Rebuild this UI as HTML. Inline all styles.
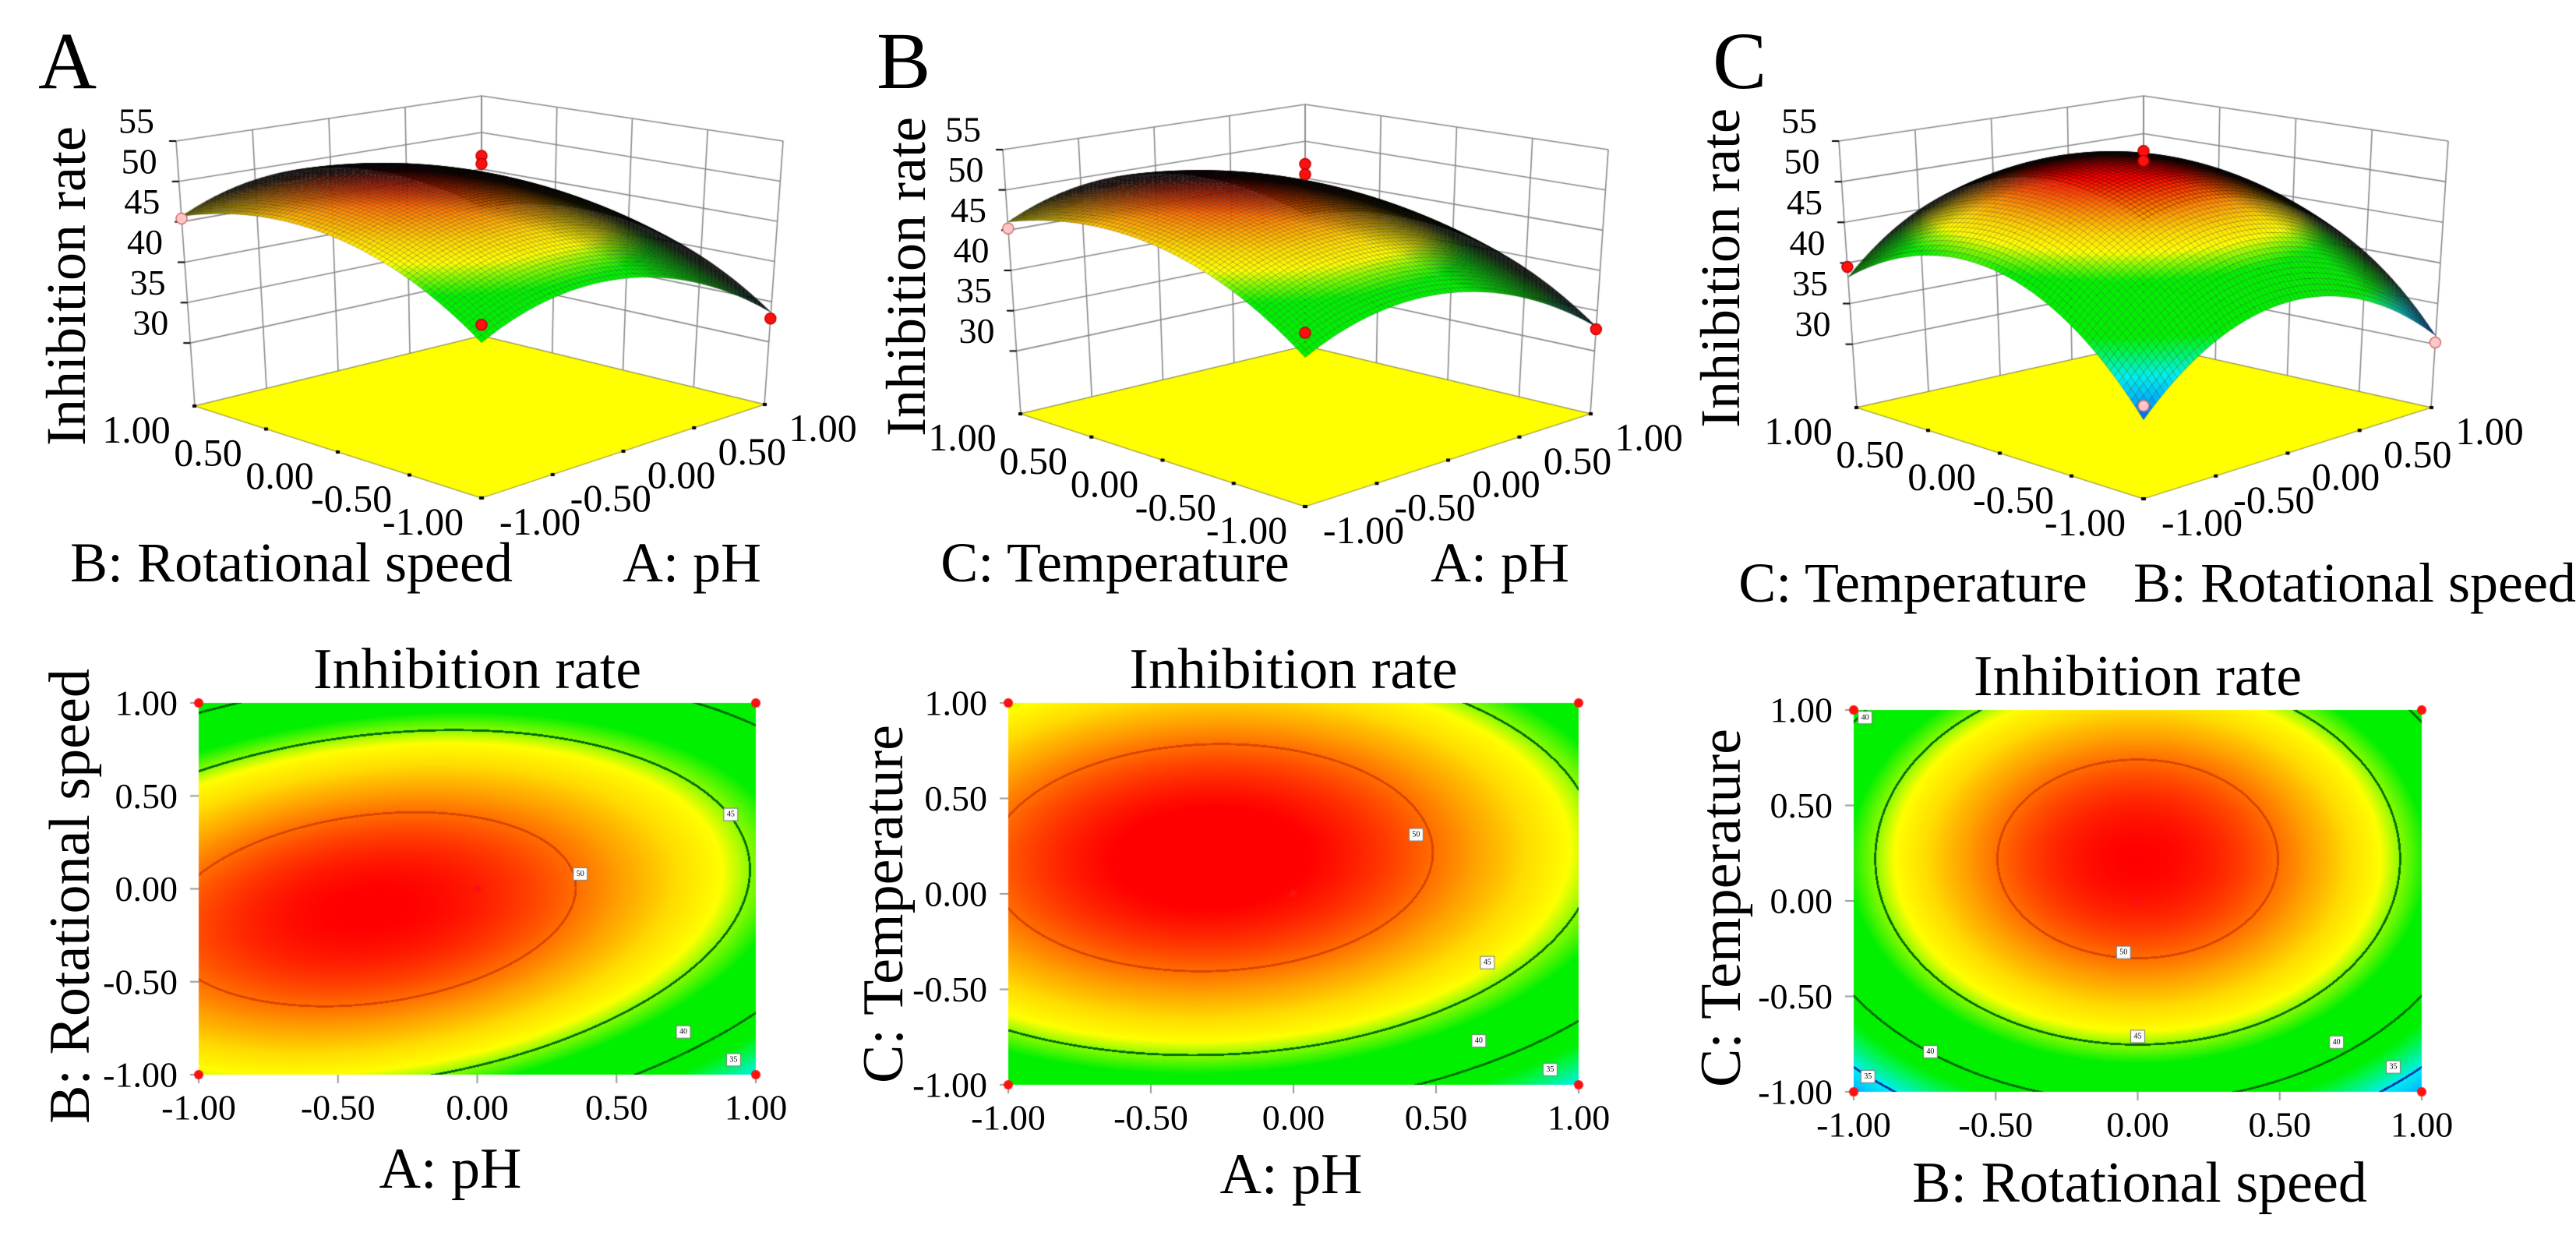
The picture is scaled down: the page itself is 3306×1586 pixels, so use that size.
<!DOCTYPE html>
<html><head><meta charset="utf-8">
<style>
html,body{margin:0;padding:0;background:#fff;}
#wrap{position:relative;width:3306px;height:1586px;overflow:hidden;}
canvas,svg{position:absolute;left:0;top:0;}
svg text{font-family:"Liberation Serif","DejaVu Serif",serif;fill:#000;}
</style></head>
<body>
<div id="wrap">
<canvas id="cv" width="3306" height="1586"></canvas>
<svg id="sv" width="3306" height="1586">
<text x="49" y="113" font-size="104">A</text>
<text x="1125" y="113" font-size="104">B</text>
<text x="2198" y="113" font-size="104">C</text>
</svg>
</div>
<script>
// ---------- data ----------
const zTicks=[55,50,45,40,35,30];
const axisTicks=[-1,-0.5,0,0.5,1];
const tickLabels=['-1.00','-0.50','0.00','0.50','1.00'];
const contourLevels=[50,45,40,35];
// surface model coefficients [peak, x0, y0, kx, ky, kxy]
const surf3dA=[51.5,-0.25,0.3,6,5,0];
const surf3dB=[51.5,-0.25,0.35,6,5,0];
const surf3dC=[53,0,0.2,9,9,0];
const contourA=[52,-0.35,-0.05,4,8,2.5];
const contourB=[52.5,-0.3,0.2,4.1,7,0.5];
const contourC=[52,0,0.22,8.2,7.4,0];
// design points [s,t,z,pink]
const pts3dA=[[1,1,46.8,0],[1,1,45.7,0],[-1,-1,41.7,0],[1,-1,32.9,0],[-1,1,45.4,1]];
const pts3dB=[[1,1,46.9,0],[1,1,45.5,0],[-1,-1,41.8,0],[1,-1,32.7,0],[-1,1,45.2,1]];
const pts3dC=[[1,1,47.7,0],[1,1,46.4,0],[-1,-1,32.6,1],[1,-1,30.2,1],[-1,1,39.5,0]];
// contour label boxes [x,y,text]
const labelsA=[[0.37,0.08,'50'],[0.91,0.40,'45'],[0.74,-0.77,'40'],[0.92,-0.92,'35']];
const labelsB=[[0.43,0.31,'50'],[0.68,-0.36,'45'],[0.65,-0.77,'40'],[0.90,-0.92,'35']];
const labelsC=[[-0.96,0.96,'40'],[-0.05,-0.27,'50'],[0.0,-0.71,'45'],[-0.73,-0.79,'40'],[0.70,-0.74,'40'],[-0.95,-0.92,'35'],[0.90,-0.87,'35']];

const ZF=22.2, ZT=55;
const cv=document.getElementById('cv');const ctx=cv.getContext('2d');
const sv=document.getElementById('sv');const NS='http://www.w3.org/2000/svg';

function txt(x,y,s,size,anchor,name,rot,baseline){
  const t=document.createElementNS(NS,'text');
  t.setAttribute('x',x);t.setAttribute('y',y);t.setAttribute('font-size',size);
  t.setAttribute('text-anchor',anchor||'middle');
  if(baseline)t.setAttribute('dominant-baseline',baseline);
  if(rot)t.setAttribute('transform','rotate(-90 '+x+' '+y+')');
  t.textContent=s;
  
  
  sv.appendChild(t);return t;
}
function model(c,x,y){return c[0]-c[3]*(x-c[1])*(x-c[1])-c[4]*(y-c[2])*(y-c[2])+c[5]*x*y;}
function grad(c,x,y){return [-2*c[3]*(x-c[1])+c[5]*y,-2*c[4]*(y-c[2])+c[5]*x];}
const stops=[[30,0,40,255],[33,0,180,255],[35,0,240,240],[37.5,0,245,60],[38.5,0,240,0],[43.5,0,240,0],[45,140,250,0],[46,255,255,0],[47.5,255,220,0],[49,255,160,0],[50,255,110,0],[52,255,0,0]];
function cmap(v){
  if(v<=stops[0][0])return stops[0].slice(1);
  for(let i=1;i<stops.length;i++){if(v<=stops[i][0]){const a=stops[i-1],b=stops[i],f=(v-a[0])/(b[0]-a[0]);return [a[1]+f*(b[1]-a[1]),a[2]+f*(b[2]-a[2]),a[3]+f*(b[3]-a[3])];}}
  return stops[stops.length-1].slice(1);
}

// ---------- 3D panels ----------
function bil(C,s,t){const u=(s+1)/2,w=(t+1)/2;
  const a=(1-u)*(1-w),b=u*(1-w),c=u*w,d=(1-u)*w;
  return [C.F[0]*a+C.R[0]*b+C.B[0]*c+C.L[0]*d, C.F[1]*a+C.R[1]*b+C.B[1]*c+C.L[1]*d];}
function proj(P,s,t,z){const f=bil(P.floor,s,t),tp=bil(P.top,s,t),k=(z-ZF)/(ZT-ZF);return [f[0]+k*(tp[0]-f[0]),f[1]+k*(tp[1]-f[1])];}
function line(a,b,col,w){ctx.strokeStyle=col;ctx.lineWidth=w;ctx.beginPath();ctx.moveTo(a[0],a[1]);ctx.lineTo(b[0],b[1]);ctx.stroke();}

function draw3d(P,coef,pts,id){
  const gc='#8a8a8a';
  axisTicks.forEach(s=>{line(proj(P,s,1,ZF),proj(P,s,1,ZT),gc,1.6);line(proj(P,1,s,ZF),proj(P,1,s,ZT),gc,1.6);});
  zTicks.concat([ZF]).forEach(z=>{line(proj(P,-1,1,z),proj(P,1,1,z),gc,1.6);line(proj(P,1,-1,z),proj(P,1,1,z),gc,1.6);});
  ctx.fillStyle='#ffff00';ctx.beginPath();
  [[-1,-1],[1,-1],[1,1],[-1,1]].forEach((c,i)=>{const p=proj(P,c[0],c[1],ZF);i?ctx.lineTo(p[0],p[1]):ctx.moveTo(p[0],p[1]);});
  ctx.closePath();ctx.fill();ctx.strokeStyle='#9a9a40';ctx.lineWidth=1.2;ctx.stroke();
  axisTicks.forEach((v,i)=>{
    const pl=proj(P,-1,v,ZF);ctx.fillStyle='#000';ctx.fillRect(pl[0]-3,pl[1]-2,5,4);
    const pr=proj(P,v,-1,ZF);ctx.fillRect(pr[0]-2,pr[1]-2,5,4);
    txt(pl[0]-75,pl[1]+30,tickLabels[i],50,'middle','floor-tick-'+id+'-left-'+i,false,'central');
    txt(pr[0]+75,pr[1]+30,tickLabels[i],50,'middle','floor-tick-'+id+'-right-'+i,false,'central');
  });
  zTicks.forEach(z=>{const p=proj(P,-1,1,z);line([p[0]-9,p[1]],p,'#000',2);
    txt(p[0]-28,p[1]-26,String(z),46,'end','z-tick-'+id+'-'+z,false,'central');});
  const N=70,q=[];
  for(let i=0;i<N;i++)for(let j=0;j<N;j++){const s0=-1+2*i/N,s1=-1+2*(i+1)/N,t0=-1+2*j/N,t1=-1+2*(j+1)/N;q.push([s0,s1,t0,t1]);}
  q.sort((a,b)=>(b[0]+b[2])-(a[0]+a[2]));
  const Hs=1.6/(ZT-ZF);
  q.forEach(r=>{
    const sc=(r[0]+r[1])/2,tc=(r[2]+r[3])/2,zc=model(coef,sc,tc),g=grad(coef,sc,tc);
    const gs=g[0]*Hs,gt=g[1]*Hs,nl=Math.sqrt(1+gs*gs+gt*gt);
    const h=(gs+gt)/Math.SQRT2/nl;let br=0.2+3.0*h;br=Math.max(0.08,Math.min(1,br));
    const c=cmap(zc);
    const p=[proj(P,r[0],r[2],model(coef,r[0],r[2])),proj(P,r[1],r[2],model(coef,r[1],r[2])),proj(P,r[1],r[3],model(coef,r[1],r[3])),proj(P,r[0],r[3],model(coef,r[0],r[3]))];
    ctx.beginPath();ctx.moveTo(p[0][0],p[0][1]);for(let k=1;k<4;k++)ctx.lineTo(p[k][0],p[k][1]);ctx.closePath();
    ctx.fillStyle='rgb('+(c[0]*br|0)+','+(c[1]*br|0)+','+(c[2]*br|0)+')';ctx.fill();
    ctx.strokeStyle='rgba(0,0,0,0.25)';ctx.lineWidth=0.8;ctx.stroke();
  });
  pts.forEach(d=>{const p=proj(P,d[0],d[1],d[2]);ctx.beginPath();ctx.arc(p[0],p[1],7,0,7);
    ctx.fillStyle=d[3]?'#ffc8c8':'#ff1010';ctx.fill();ctx.strokeStyle=d[3]?'#d07070':'#c00000';ctx.lineWidth=1.5;ctx.stroke();});
}
const P3A={floor:{F:[618,639],R:[981,519],B:[618,431],L:[250,521]},top:{F:[618,265],R:[1005,181],B:[618,123],L:[226,181]}};
const P3B={floor:{F:[1675,650],R:[2041,531],B:[1675,444],L:[1310,531]},top:{F:[1675,277],R:[2064,192],B:[1675,134],L:[1287,192]}};
const P3C={floor:{F:[2751,640],R:[3120,523],B:[2751,441],L:[2383,523]},top:{F:[2751,264],R:[3142,181],B:[2751,123],L:[2360,181]}};
draw3d(P3A,surf3dA,pts3dA,'a');
draw3d(P3B,surf3dB,pts3dB,'b');
draw3d(P3C,surf3dC,pts3dC,'c');
txt(85,367,'Inhibition rate',72,'middle','z-axis-title-a',true,'central');
txt(1163,355,'Inhibition rate',72,'middle','z-axis-title-b',true,'central');
txt(2208,344,'Inhibition rate',72,'middle','z-axis-title-c',true,'central');
txt(374,746,'B: Rotational speed',72,'middle','left-axis-title-a');
txt(888,746,'A: pH',72,'middle','right-axis-title-a');
txt(1431,746,'C: Temperature',72,'middle','left-axis-title-b');
txt(1925,746,'A: pH',72,'middle','right-axis-title-b');
txt(2455,772,'C: Temperature',72,'middle','left-axis-title-c');
txt(3022,772,'B: Rotational speed',72,'middle','right-axis-title-c');

// ---------- contour panels ----------
const lineCols={50:[215,70,0],45:[0,110,0],40:[0,105,0],35:[0,50,170]};
function drawContour(R,coef,labels,id,xt,yt){
  const W=R.r-R.l,H=R.b-R.t;
  const img=ctx.createImageData(W,H);const d=img.data;
  for(let py=0;py<H;py++)for(let px=0;px<W;px++){
    const x=-1+2*(px+0.5)/W,y=1-2*(py+0.5)/H;
    const v=model(coef,x,y);let c=cmap(v);
    const g=grad(coef,x,y);const gp=Math.sqrt(Math.pow(g[0]*2/W,2)+Math.pow(g[1]*2/H,2))+1e-9;
    for(const L of contourLevels){if(Math.abs(v-L)/gp<1.4){c=lineCols[L];break;}}
    const k=(py*W+px)*4;d[k]=c[0];d[k+1]=c[1];d[k+2]=c[2];d[k+3]=255;
  }
  ctx.putImageData(img,R.l,R.t);
  const X=v=>R.l+(v+1)/2*W, Y=v=>R.b-(v+1)/2*H;
  axisTicks.forEach((v,i)=>{
    line([R.l-11,Y(v)],[R.l,Y(v)],'#999',2);line([X(v),R.b],[X(v),R.b+11],'#999',2);
    txt(R.l-27,Y(v),tickLabels[i],46,'end','y-tick-'+id+'-'+i,false,'central');
    txt(X(v),R.b+42,tickLabels[i],46,'middle','x-tick-'+id+'-'+i,false,'central');
  });
  labels.forEach((l,i)=>{const x=X(l[0]),y=Y(l[1]);ctx.fillStyle='#fff';ctx.fillRect(x-9,y-8,18,16);ctx.strokeStyle='#777';ctx.lineWidth=1;ctx.strokeRect(x-9,y-8,18,16);
    txt(x,y,l[2],10,'middle','contour-label-'+id+'-'+i,false,'central');});
  [[-1,-1],[1,-1],[1,1],[-1,1],[0,0]].forEach(p=>{ctx.beginPath();ctx.arc(X(p[0]),Y(p[1]),p[0]===0?5:6,0,7);ctx.fillStyle='#ff1010';ctx.fill();});
  txt((R.l+R.r)/2,R.t-19,'Inhibition rate',74,'middle','contour-title-'+id);
  txt(R.xlab[0],R.xlab[1],xt,74,'middle','x-axis-title-'+id);
  txt(R.ylab[0],R.ylab[1],yt,74,'middle','y-axis-title-'+id,true,'central');
}
drawContour({l:255,r:970,t:902,b:1379,xlab:[578,1524],ylab:[90,1150]},contourA,labelsA,'a','A: pH','B: Rotational speed');
drawContour({l:1294,r:2026,t:902,b:1392,xlab:[1657,1531],ylab:[1134,1160]},contourB,labelsB,'b','A: pH','C: Temperature');
drawContour({l:2379,r:3108,t:911,b:1401,xlab:[2746,1542],ylab:[2209,1165]},contourC,labelsC,'c','B: Rotational speed','C: Temperature');
</script>
</body></html>
